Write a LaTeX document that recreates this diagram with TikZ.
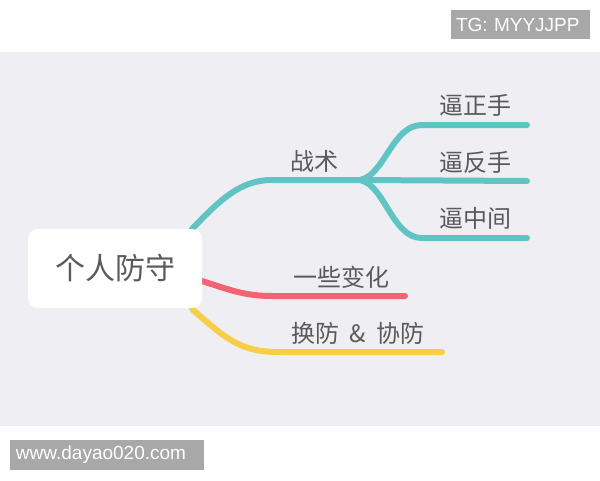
\documentclass[tikz,border=0pt]{standalone}
\usepackage{fontspec}
\setmainfont{Liberation Sans}
\newfontfamily\cjk{Noto Sans CJK SC}
\definecolor{bgband}{HTML}{EFEEF3}
\definecolor{wmgray}{HTML}{A8A8A8}
\definecolor{teal1}{HTML}{5FC4C4}
\definecolor{red1}{HTML}{F06474}
\definecolor{yel1}{HTML}{F8CD48}
\definecolor{txt}{HTML}{5A5A5A}
\tikzset{
  lbl/.style={inner sep=0pt, text=txt, font=\cjk\fontsize{24}{24}\selectfont},
  rootbox/.style={fill=white, rounded corners=10pt, minimum width=174pt, minimum height=79pt, inner sep=0pt, text=txt, font=\cjk\fontsize{30}{30}\selectfont},
  wm/.style={fill=wmgray, text=white, inner ysep=0pt, align=left, font=\fontsize{19}{19}\selectfont},
  branch/.style={line width=6pt, line cap=round},
}
\begin{document}
\begin{tikzpicture}[x=1pt,y=-1pt]
\useasboundingbox (0,0) rectangle (600,480);
\fill[white] (0,0) rectangle (600,480);
\fill[bgband] (0,52) rectangle (600,426);
% watermarks
\node[wm, inner xsep=5pt, text width=129pt, minimum height=29pt] (tg) at (520.5,24.5) {TG: MYYJJPP};
\node[wm, inner xsep=6pt, text width=182pt, minimum height=30pt] (www) at (107,455) {www.dayao020.com};
% coordinates
\coordinate (tstart) at (192,229);
\coordinate (tj) at (360,180);
\coordinate (t1e) at (527,125);
\coordinate (t2e) at (527,181);
\coordinate (t3e) at (527,238);
\coordinate (rstart) at (202,281);
\coordinate (re) at (405,296);
\coordinate (ystart) at (192,309);
\coordinate (ye) at (442,352);
% branches
\draw[branch, teal1] (tstart) .. controls (220,200) and (240,180) .. (272,180) -- (tj);
\draw[branch, teal1] (tj) .. controls (385,175) and (392,125) .. (422,125) -- (t1e);
\draw[branch, teal1] (tj) -- (t2e);
\draw[branch, teal1] (tj) .. controls (385,185) and (392,238) .. (422,238) -- (t3e);
\draw[branch, red1] (rstart) .. controls (230,290) and (245,296) .. (272,296) -- (re);
\draw[branch, yel1] (ystart) .. controls (225,338) and (240,352) .. (278,352) -- (ye);
% root
\node[rootbox] (root) at (115,268.5) {个人防守};
% labels
\node[lbl] (zs) at (314,161) {战术};
\node[lbl] (bz) at (475,105) {逼正手};
\node[lbl] (bf) at (475,162) {逼反手};
\node[lbl] (bm) at (475,218) {逼中间};
\node[lbl] (yx) at (341,277) {一些变化};
\node[lbl] (hf) at (358,333) {换防\hspace{0.45em}\&\hspace{0.45em}协防};
\end{tikzpicture}
\end{document}
